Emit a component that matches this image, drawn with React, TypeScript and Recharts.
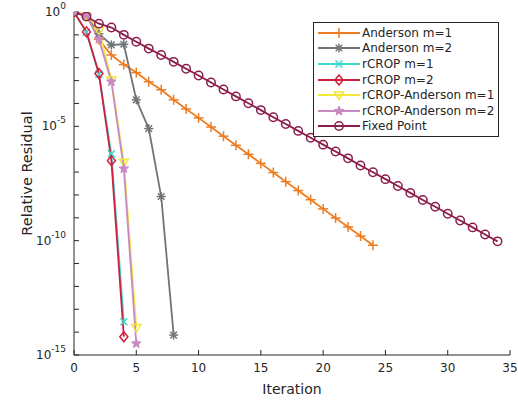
import { Line, LineChart, XAxis, YAxis } from 'recharts'

// log10 of the relative residual per iteration
const andersonM1 = [0, -0.15, -1.2, -1.88, -2.3, -2.65, -3.05, -3.4, -3.84, -4.24, -4.63, -5.03, -5.43, -5.83, -6.22, -6.62, -7.02, -7.42, -7.81, -8.21, -8.61, -9.01, -9.4, -9.8, -10.2]
const andersonM2 = [0, -0.15, -0.95, -1.44, -1.41, -3.84, -5.1, -8.07, -14.13]
const rcropM1 = [0, -0.88, -2.72, -6.2, -13.55]
const rcropM2 = [0, -0.87, -2.69, -6.5, -14.2]
const rcropAndersonM1 = [0, -0.1, -0.8, -2.97, -6.57, -13.8]
const rcropAndersonM2 = [0, -0.15, -1.19, -3.05, -6.85, -14.5]
const fixedPoint = [0, -0.2, -0.51, -0.68, -1.0, -1.3, -1.6, -1.88, -2.18, -2.48, -2.78, -3.08, -3.39, -3.69, -3.99, -4.29, -4.6, -4.9, -5.2, -5.5, -5.8, -6.1, -6.4, -6.71, -7.01, -7.31, -7.61, -7.91, -8.22, -8.52, -8.82, -9.12, -9.42, -9.73, -10.03]

const xTicks = [0, 5, 10, 15, 20, 25, 30, 35]
const yTickExponents = [0, -1, -2, -3, -4, -5, -6, -7, -8, -9, -10, -11, -12, -13, -14, -15]

const INK = '#262626'
const FONT = '"DejaVu Sans", sans-serif'

type Marker = 'plus' | 'star' | 'x' | 'diamond' | 'triangleDown' | 'pentagram' | 'circle'

const seriesList: { key: string; name: string; values: number[]; color: string; marker: Marker }[] = [
  { key: 'a1', name: 'Anderson m=1', values: andersonM1, color: '#EE7D22', marker: 'plus' },
  { key: 'a2', name: 'Anderson m=2', values: andersonM2, color: '#707377', marker: 'star' },
  { key: 'r1', name: 'rCROP m=1', values: rcropM1, color: '#3ED8CC', marker: 'x' },
  { key: 'r2', name: 'rCROP m=2', values: rcropM2, color: '#D11F3F', marker: 'diamond' },
  { key: 'ra1', name: 'rCROP-Anderson m=1', values: rcropAndersonM1, color: '#F4E63A', marker: 'triangleDown' },
  { key: 'ra2', name: 'rCROP-Anderson m=2', values: rcropAndersonM2, color: '#C98AC3', marker: 'pentagram' },
  { key: 'fp', name: 'Fixed Point', values: fixedPoint, color: '#8B1D4C', marker: 'circle' },
]

const data = fixedPoint.map((_, i) => {
  const row: Record<string, number | undefined> = { iter: i }
  seriesList.forEach((s) => {
    row[s.key] = i < s.values.length ? Math.pow(10, s.values[i]) : undefined
  })
  return row
})

function MarkerShape({ kind, cx, cy, color }: { kind: Marker; cx: number; cy: number; color: string }) {
  const sw = 1.5
  switch (kind) {
    case 'plus':
      return (
        <g stroke={color} strokeWidth={sw}>
          <line x1={cx - 5} y1={cy} x2={cx + 5} y2={cy} />
          <line x1={cx} y1={cy - 5} x2={cx} y2={cy + 5} />
        </g>
      )
    case 'star':
      return (
        <g stroke={color} strokeWidth={sw}>
          <line x1={cx - 4.5} y1={cy} x2={cx + 4.5} y2={cy} />
          <line x1={cx} y1={cy - 4.5} x2={cx} y2={cy + 4.5} />
          <line x1={cx - 3.3} y1={cy - 3.3} x2={cx + 3.3} y2={cy + 3.3} />
          <line x1={cx - 3.3} y1={cy + 3.3} x2={cx + 3.3} y2={cy - 3.3} />
        </g>
      )
    case 'x':
      return (
        <g stroke={color} strokeWidth={sw}>
          <line x1={cx - 3.5} y1={cy - 3.5} x2={cx + 3.5} y2={cy + 3.5} />
          <line x1={cx - 3.5} y1={cy + 3.5} x2={cx + 3.5} y2={cy - 3.5} />
        </g>
      )
    case 'diamond':
      return <polygon points={`${cx},${cy - 5} ${cx + 4},${cy} ${cx},${cy + 5} ${cx - 4},${cy}`} fill="none" stroke={color} strokeWidth={sw} />
    case 'triangleDown':
      return <polygon points={`${cx - 4.5},${cy - 3} ${cx + 4.5},${cy - 3} ${cx},${cy + 4.5}`} fill="none" stroke={color} strokeWidth={sw} />
    case 'pentagram': {
      const pts: string[] = []
      for (let k = 0; k < 10; k++) {
        const r = k % 2 === 0 ? 5 : 2.2
        const a = -Math.PI / 2 + (k * Math.PI) / 5
        pts.push(`${cx + r * Math.cos(a)},${cy + r * Math.sin(a)}`)
      }
      return <polygon points={pts.join(' ')} fill={color} stroke={color} strokeWidth={1} />
    }
    default:
      return <circle cx={cx} cy={cy} r={4.2} fill="none" stroke={color} strokeWidth={sw} />
  }
}

function makeDot(kind: Marker, color: string) {
  return (props: { cx?: number; cy?: number; index?: number; value?: unknown }) => {
    const { cx, cy, index } = props
    if (cx == null || cy == null || Number.isNaN(cx) || Number.isNaN(cy)) return <g key={`d-${index}`} />
    return (
      <g key={`d-${index}`}>
        <MarkerShape kind={kind} cx={cx} cy={cy} color={color} />
      </g>
    )
  }
}

function YTick({ x, y, payload }: { x: number; y: number; payload: { value: number } }) {
  const exp = Math.round(Math.log10(payload.value))
  if (exp % 5 !== 0) return null
  return (
    <text x={x} y={y} textAnchor="end" dominantBaseline="central" fill={INK} fontSize={12} fontFamily={FONT}>
      10
      <tspan dy={-6} fontSize={9}>{exp}</tspan>
    </text>
  )
}

function XTick({ x, y, payload }: { x: number; y: number; payload: { value: number } }) {
  return (
    <text x={x} y={y} textAnchor="middle" dominantBaseline="central" fill={INK} fontSize={12} fontFamily={FONT}>
      {payload.value}
    </text>
  )
}

export default function App() {
  const yTicks = yTickExponents.map((e) => Math.pow(10, e))
  return (
    <div style={{ position: 'absolute', left: 0, top: 0, width: 518, height: 402, background: '#fff', fontFamily: FONT }}>
      <LineChart width={518} height={402} data={data} margin={{ top: 12, right: 8, bottom: 0, left: 0 }}>
        <XAxis
          dataKey="iter"
          type="number"
          domain={[0, 35]}
          ticks={xTicks}
          allowDataOverflow
          stroke={INK}
          tickSize={-5}
          tickMargin={18}
          tick={XTick}
          height={47}
          label={{ value: 'Iteration', position: 'insideBottom', offset: 8, fill: INK, fontSize: 14, fontFamily: FONT }}
        />
        <XAxis xAxisId="top" orientation="top" dataKey="iter" type="number" domain={[0, 35]} ticks={xTicks} allowDataOverflow stroke={INK} tickSize={-5} tick={false} height={0} />
        <YAxis
          type="number"
          scale="log"
          domain={[1e-15, 1]}
          ticks={yTicks}
          allowDataOverflow
          stroke={INK}
          tickSize={-5}
          tickMargin={13}
          tick={YTick}
          width={74}
          interval={0}
          label={{ value: 'Relative Residual', angle: -90, position: 'insideLeft', offset: 27, dy: -10, fill: INK, fontSize: 14.5, fontFamily: FONT, style: { textAnchor: 'middle' } }}
        />
        <YAxis yAxisId="right" orientation="right" type="number" scale="log" domain={[1e-15, 1]} ticks={yTicks} allowDataOverflow stroke={INK} tickSize={-5} tick={false} width={0} interval={0} />
        {seriesList.map((s) => (
          <Line
            key={s.key}
            dataKey={s.key}
            type="linear"
            stroke={s.color}
            strokeWidth={1.8}
            dot={makeDot(s.marker, s.color)}
            activeDot={false}
            isAnimationActive={false}
          />
        ))}
      </LineChart>
      <div
        style={{
          position: 'absolute',
          left: 313,
          top: 22,
          width: 184,
          height: 111,
          border: `1px solid ${INK}`,
          background: '#fff',
          paddingTop: 2,
          boxSizing: 'content-box',
        }}
      >
        {seriesList.map((s) => (
          <div key={s.key} style={{ display: 'flex', alignItems: 'center', height: 15.6 }}>
            <svg width={48} height={14} style={{ flex: 'none' }}>
              <line x1={4} y1={7} x2={46} y2={7} stroke={s.color} strokeWidth={1.8} />
              <MarkerShape kind={s.marker} cx={25} cy={7} color={s.color} />
            </svg>
            <span style={{ fontSize: 12, color: INK, whiteSpace: 'nowrap', lineHeight: '14px' }}>{s.name}</span>
          </div>
        ))}
      </div>
    </div>
  )
}
